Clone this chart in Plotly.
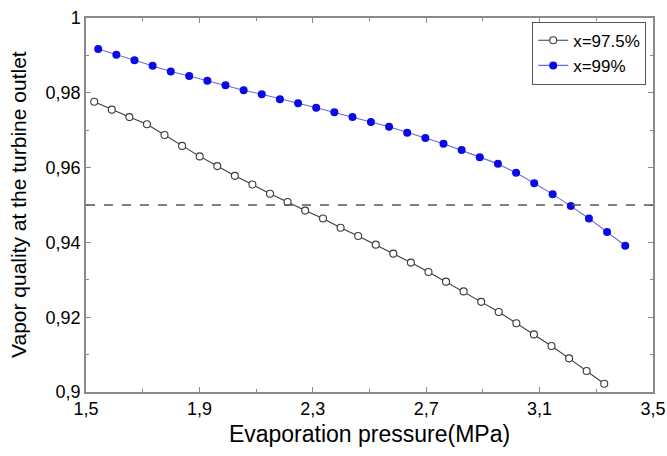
import plotly.graph_objects as go

# Data
p_975 = [1.529, 1.591, 1.653, 1.715, 1.777, 1.839, 1.901, 1.963, 2.025, 2.087,
         2.149, 2.211, 2.273, 2.336, 2.398, 2.460, 2.522, 2.584, 2.646, 2.708,
         2.770, 2.832, 2.894, 2.956, 3.018, 3.080, 3.142, 3.204, 3.266, 3.328]
q_975 = [0.9776, 0.9755, 0.9735, 0.9716, 0.9687, 0.9658, 0.9630, 0.9604, 0.9578, 0.9555,
         0.9530, 0.9508, 0.9485, 0.9464, 0.9439, 0.9417, 0.9394, 0.9370, 0.9346, 0.9321,
         0.9295, 0.9269, 0.9241, 0.9214, 0.9184, 0.9154, 0.9123, 0.9090, 0.9056, 0.9022]

p_99 = [1.543, 1.607, 1.671, 1.735, 1.799, 1.864, 1.928, 1.992, 2.056, 2.120,
        2.184, 2.248, 2.312, 2.376, 2.440, 2.505, 2.569, 2.633, 2.697, 2.761,
        2.825, 2.889, 2.953, 3.017, 3.081, 3.146, 3.210, 3.274, 3.338, 3.402]
q_99 = [0.9917, 0.9902, 0.9887, 0.9872, 0.9857, 0.9845, 0.9832, 0.9820, 0.9807, 0.9796,
        0.9783, 0.9772, 0.9760, 0.9748, 0.9735, 0.9722, 0.9709, 0.9693, 0.9679, 0.9664,
        0.9647, 0.9628, 0.9610, 0.9586, 0.9558, 0.9529, 0.9497, 0.9464, 0.9428, 0.9391]

threshold = 0.95

x_tickvals = [1.5, 1.9, 2.3, 2.7, 3.1, 3.5]
x_ticktext = ["1,5", "1,9", "2,3", "2,7", "3,1", "3,5"]
y_tickvals = [0.9, 0.92, 0.94, 0.96, 0.98, 1.0]
y_ticktext = ["0,9", "0,92", "0,94", "0,96", "0,98", "1"]

FONT = "Liberation Sans, Arial, sans-serif"

fig = go.Figure()
fig.add_trace(go.Scatter(
    x=p_975, y=q_975, mode="lines+markers", name="x=97.5%",
    line=dict(color="#3a3a3a", width=1.1),
    marker=dict(symbol="circle", size=7, color="white",
                line=dict(color="#3a3a3a", width=1.1)),
))
fig.add_trace(go.Scatter(
    x=p_99, y=q_99, mode="lines+markers", name="x=99%",
    line=dict(color="#6a6ad8", width=1.1),
    marker=dict(symbol="circle", size=8, color="#0a0ae6",
                line=dict(color="#0a0ae6", width=0)),
))
fig.add_hline(y=threshold, line=dict(color="#555555", width=1.5, dash="dash"))

axis_common = dict(
    showline=True, linecolor="#8a8a8a", linewidth=1.5, mirror="ticks",
    ticks="inside", ticklen=5, tickcolor="#8a8a8a", tickwidth=1,
    showgrid=False, zeroline=False, automargin=False,
    tickfont=dict(family=FONT, size=18, color="black"),
)
fig.update_xaxes(
    range=[1.5, 3.5], tickvals=x_tickvals, ticktext=x_ticktext,
    minor=dict(ticks="inside", ticklen=3, dtick=0.2, tick0=1.5, tickcolor="#8a8a8a"),
    title=dict(text="Evaporation pressure(MPa)", font=dict(family=FONT, size=23, color="black"),
               standoff=8),
    **axis_common,
)
fig.update_yaxes(
    range=[0.9, 1.0], tickvals=y_tickvals, ticktext=y_ticktext,
    minor=dict(ticks="inside", ticklen=3, dtick=0.01, tick0=0.9, tickcolor="#8a8a8a"),
    **axis_common,
)
fig.add_annotation(
    text="Vapor quality at the turbine outlet", textangle=-90,
    xref="paper", yref="paper", x=-68 / 567, y=0.5, xanchor="center", yanchor="middle",
    showarrow=False, font=dict(family=FONT, size=21, color="black"),
)
fig.update_layout(
    width=667, height=456,
    margin=dict(l=86, r=14, t=18, b=64),
    paper_bgcolor="white", plot_bgcolor="white",
    showlegend=True,
    legend=dict(x=0.988, y=0.99, xanchor="right", yanchor="top",
                bgcolor="white", bordercolor="#555555", borderwidth=1,
                font=dict(family=FONT, size=17, color="black"),
                itemwidth=30, tracegroupgap=0),
)
fig.write_html("out.html")
